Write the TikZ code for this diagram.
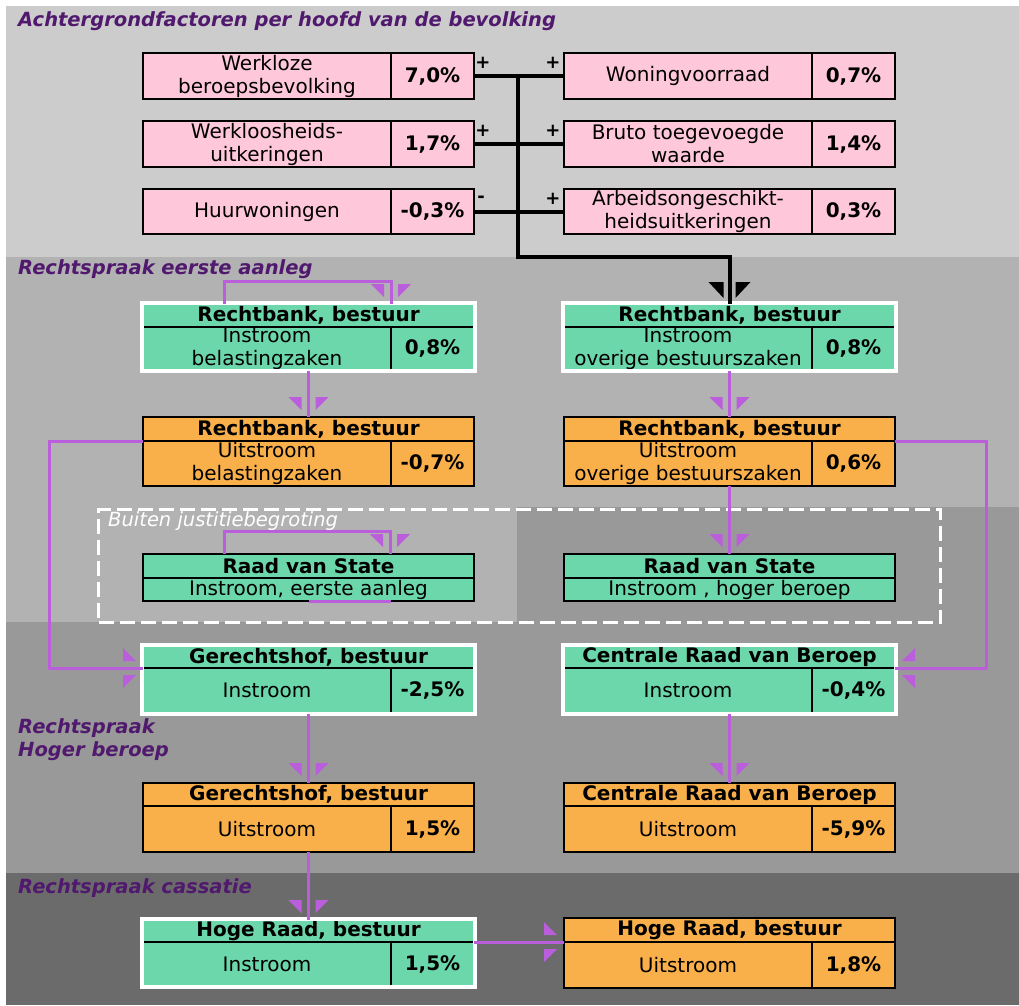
\documentclass[tikz,border=0pt]{standalone}
\usepackage{fontspec}
\setmainfont{DejaVu Sans}[ItalicFont={DejaVu Sans Oblique},BoldItalicFont={DejaVu Sans Bold Oblique},BoldFont={DejaVu Sans Bold}]
\usetikzlibrary{calc,fit}
\definecolor{pinkc}{RGB}{255,200,218}
\definecolor{greenc}{RGB}{109,215,172}
\definecolor{orangec}{RGB}{249,176,75}
\definecolor{pc}{RGB}{187,94,220}
\definecolor{titlec}{RGB}{80,25,110}
\definecolor{bgA}{RGB}{204,204,204}
\definecolor{bgB}{RGB}{178,178,178}
\definecolor{bgC}{RGB}{153,153,153}
\definecolor{bgD}{RGB}{107,107,107}
\newcommand\myfs{\fontsize{20}{23}\selectfont}
\newcommand\myfsb{\fontsize{20}{23}\selectfont\bfseries}
\newcommand\mytitle{\fontsize{19.5}{23}\selectfont\bfseries\itshape}
\newcommand\mybuiten{\fontsize{19.5}{23}\selectfont\itshape}
\begin{document}
\begin{tikzpicture}[x=1pt,y=-1pt,
  cell/.style={draw=black, line width=2pt, anchor=north west, inner sep=0pt, outer sep=0pt, align=center, font=\myfs},
  pink/.style={cell, fill=pinkc},
  grn/.style={cell, fill=greenc},
  org/.style={cell, fill=orangec},
  hdr/.style={font=\myfsb, minimum width=331pt},
  lab/.style={minimum width=248pt},
  valc/.style={font=\myfsb, minimum width=83pt},
  frm/.style={draw=white, line width=4pt, inner sep=1pt, outer sep=0pt},
  sect/.style={anchor=base west, inner sep=0pt, text=titlec, font=\mytitle},
  sgn/.style={inner sep=0pt, font=\fontsize{18}{18}\selectfont\bfseries},
  kl/.style={draw=black, line width=4pt},
  pl/.style={draw=pc, line width=3pt},
  dashbox/.style={draw=white, line width=3pt, dash pattern=on 15pt off 6pt, anchor=north west, inner sep=0pt},
  pics/parrow/.style={code={
    \fill[pc] (-20,-20) -- (-20,-7) -- (-7,-7) -- cycle;
    \fill[pc] (-20,20) -- (-20,7) -- (-7,7) -- cycle;}},
  pics/karrow/.style={code={
    \fill[black] (-22,-21) -- (-22,-6) -- (-6,-6) -- cycle;
    \fill[black] (-22,21) -- (-22,6) -- (-6,6) -- cycle;}}
]
\useasboundingbox (0,0) rectangle (1019,1005);
\fill[white] (0,0) rectangle (1019,1005);
\fill[bgA] (6,6) rectangle (1019,257);
\fill[bgB] (6,257) rectangle (1019,622);
\fill[bgC] (517,507) rectangle (1019,622);
\fill[bgC] (6,622) rectangle (1019,873);
\fill[bgD] (6,873) rectangle (1019,1005);

% dashed region
\node[dashbox, minimum width=842pt, minimum height=113pt] (bj) at (97,508) {};

% section titles
\node[sect] (t1) at (18,26) {Achtergrondfactoren per hoofd van de bevolking};
\node[sect] (t2) at (18,274) {Rechtspraak eerste aanleg};
\node[sect] (t3a) at (18,733) {Rechtspraak};
\node[sect] (t3b) at (18,756) {Hoger beroep};
\node[sect] (t4) at (18,893) {Rechtspraak cassatie};
\node[anchor=base west, inner sep=0pt, text=white, font=\mybuiten] (t5) at (108,526) {Buiten justitiebegroting};

% background factors
\node[pink, lab, minimum height=46pt] (w1l) at (143,53) {Werkloze\\beroepsbevolking};
\node[pink, valc, minimum height=46pt] (w1v) at (w1l.north east) {7,0\%};
\node[pink, lab, minimum height=46pt] (w2l) at (143,121) {Werkloosheids-\\uitkeringen};
\node[pink, valc, minimum height=46pt] (w2v) at (w2l.north east) {1,7\%};
\node[pink, lab, minimum height=45pt] (w3l) at (143,189) {Huurwoningen};
\node[pink, valc, minimum height=45pt] (w3v) at (w3l.north east) {-0,3\%};
\node[pink, lab, minimum height=46pt] (r1l) at (564,53) {Woningvoorraad};
\node[pink, valc, minimum height=46pt] (r1v) at (r1l.north east) {0,7\%};
\node[pink, lab, minimum height=46pt] (r2l) at (564,121) {Bruto toegevoegde\\waarde};
\node[pink, valc, minimum height=46pt] (r2v) at (r2l.north east) {1,4\%};
\node[pink, lab, minimum height=45pt] (r3l) at (564,189) {Arbeidsongeschikt-\\heidsuitkeringen};
\node[pink, valc, minimum height=45pt] (r3v) at (r3l.north east) {0,3\%};

% Rechtbank instroom belastingzaken
\node[grn, hdr, minimum height=23pt] (rbi-h) at (143,304) {Rechtbank, bestuur};
\node[grn, lab, minimum height=43pt] (rbi-l) at (rbi-h.south west) {Instroom\\belastingzaken};
\node[grn, valc, minimum height=43pt] (rbi-v) at (rbi-l.north east) {0,8\%};
\node[frm, fit=(rbi-h)(rbi-l)(rbi-v)] (rbi) {};
% Rechtbank instroom overige
\node[grn, hdr, minimum height=23pt] (roi-h) at (564,304) {Rechtbank, bestuur};
\node[grn, lab, minimum height=43pt] (roi-l) at (roi-h.south west) {Instroom\\overige bestuurszaken};
\node[grn, valc, minimum height=43pt] (roi-v) at (roi-l.north east) {0,8\%};
\node[frm, fit=(roi-h)(roi-l)(roi-v)] (roi) {};
% Rechtbank uitstroom
\node[org, hdr, minimum height=24pt] (rbu-h) at (143,417) {Rechtbank, bestuur};
\node[org, lab, minimum height=45pt] (rbu-l) at (rbu-h.south west) {Uitstroom\\belastingzaken};
\node[org, valc, minimum height=45pt] (rbu-v) at (rbu-l.north east) {-0,7\%};
\node[org, hdr, minimum height=24pt] (rou-h) at (564,417) {Rechtbank, bestuur};
\node[org, lab, minimum height=45pt] (rou-l) at (rou-h.south west) {Uitstroom\\overige bestuurszaken};
\node[org, valc, minimum height=45pt] (rou-v) at (rou-l.north east) {0,6\%};
% Raad van State
\node[grn, hdr, minimum height=24pt] (rv1-h) at (143,554) {Raad van State};
\node[grn, minimum width=331pt, minimum height=23pt] (rv1-l) at (rv1-h.south west) {Instroom, eerste aanleg};
\node[grn, hdr, minimum height=24pt] (rv2-h) at (564,554) {Raad van State};
\node[grn, minimum width=331pt, minimum height=23pt] (rv2-l) at (rv2-h.south west) {Instroom , hoger beroep};
% Gerechtshof / CRvB instroom
\node[grn, hdr, minimum height=22pt] (ghi-h) at (143,646) {Gerechtshof, bestuur};
\node[grn, lab, minimum height=45pt] (ghi-l) at (ghi-h.south west) {Instroom};
\node[grn, valc, minimum height=45pt] (ghi-v) at (ghi-l.north east) {-2,5\%};
\node[frm, fit=(ghi-h)(ghi-l)(ghi-v)] (ghi) {};
\node[grn, hdr, minimum height=22pt] (cri-h) at (564,646) {Centrale Raad van Beroep};
\node[grn, lab, minimum height=45pt] (cri-l) at (cri-h.south west) {Instroom};
\node[grn, valc, minimum height=45pt] (cri-v) at (cri-l.north east) {-0,4\%};
\node[frm, fit=(cri-h)(cri-l)(cri-v)] (cri) {};
% uitstroom
\node[org, hdr, minimum height=23pt] (ghu-h) at (143,783) {Gerechtshof, bestuur};
\node[org, lab, minimum height=46pt] (ghu-l) at (ghu-h.south west) {Uitstroom};
\node[org, valc, minimum height=46pt] (ghu-v) at (ghu-l.north east) {1,5\%};
\node[org, hdr, minimum height=23pt] (cru-h) at (564,783) {Centrale Raad van Beroep};
\node[org, lab, minimum height=46pt] (cru-l) at (cru-h.south west) {Uitstroom};
\node[org, valc, minimum height=46pt] (cru-v) at (cru-l.north east) {-5,9\%};
% Hoge Raad
\node[grn, hdr, minimum height=22pt] (hri-h) at (143,920) {Hoge Raad, bestuur};
\node[grn, lab, minimum height=44pt] (hri-l) at (hri-h.south west) {Instroom};
\node[grn, valc, minimum height=44pt] (hri-v) at (hri-l.north east) {1,5\%};
\node[frm, fit=(hri-h)(hri-l)(hri-v)] (hri) {};
\node[org, hdr, minimum height=24pt] (hru-h) at (564,918) {Hoge Raad, bestuur};
\node[org, lab, minimum height=46pt] (hru-l) at (hru-h.south west) {Uitstroom};
\node[org, valc, minimum height=46pt] (hru-v) at (hru-l.north east) {1,8\%};

% black connectors
\coordinate (bus) at (518,257);
\draw[kl] (w1v.east) -- (w1v.east -| bus);
\draw[kl] (w2v.east) -- (w2v.east -| bus);
\draw[kl] (w3v.east) -- (w3v.east -| bus);
\draw[kl] (r1l.west) -- (r1l.west -| bus);
\draw[kl] (r2l.west) -- (r2l.west -| bus);
\draw[kl] (r3l.west) -- (r3l.west -| bus);
\draw[kl, line join=miter] (w1v.east -| bus) -- (bus) -| (roi-h.north);
\pic[rotate=-90] at (roi-h.north) {karrow};

% signs
\node[sgn] (s1) at (483,63) {+};
\node[sgn] (s2) at (553,63) {+};
\node[sgn] (s3) at (483,131) {+};
\node[sgn] (s4) at (553,131) {+};
\node[sgn] (s5) at (481,199) {-};
\node[sgn] (s6) at (553,199) {+};

% purple connectors
\coordinate (l1a) at ($(rbi-h.north west)+(81,0)$);
\coordinate (l1b) at (rbi-v.west |- rbi-h.north);
\draw[pl] (l1a) -- ++(0,-23) -| (l1b);
\pic[rotate=-90] at (l1b) {parrow};

\draw[pl] (rbu-h.north |- rbi.south) -- (rbu-h.north);
\pic[rotate=-90] at (rbu-h.north) {parrow};
\draw[pl] (rou-h.north |- roi.south) -- (rou-h.north);
\pic[rotate=-90] at (rou-h.north) {parrow};

\draw[pl] (rbu-h.south west) -- ++(-94,0) |- (ghi-h.south west);
\pic at (ghi-h.south west) {parrow};
\draw[pl] (rou-h.south east) -- ++(91,0) |- (cri-h.south east);
\pic[rotate=180] at (cri-h.south east) {parrow};

\draw[pl] (rv2-h.north |- rou-l.south) -- (rv2-h.north);
\pic[rotate=-90] at (rv2-h.north) {parrow};

\coordinate (l2a) at ($(rv1-h.north west)+(81,0)$);
\coordinate (l2b) at ($(rv1-h.north west)+(247,0)$);
\draw[pl] (l2a) -- ++(0,-23) -| (l2b);
\pic[rotate=-90] at (l2b) {parrow};
\draw[pl] (rv1-l.south) -- ($(rv1-l.south west)+(248,0)$);

\draw[pl] (ghu-h.north |- ghi.south) -- (ghu-h.north);
\pic[rotate=-90] at (ghu-h.north) {parrow};
\draw[pl] (cru-h.north |- cri.south) -- (cru-h.north);
\pic[rotate=-90] at (cru-h.north) {parrow};
\draw[pl] (hri-h.north |- ghu-l.south) -- (hri-h.north);
\pic[rotate=-90] at (hri-h.north) {parrow};
\draw[pl] (hri-h.south east) -- (hru-h.south west);
\pic at (hru-h.south west) {parrow};
\end{tikzpicture}
\end{document}
